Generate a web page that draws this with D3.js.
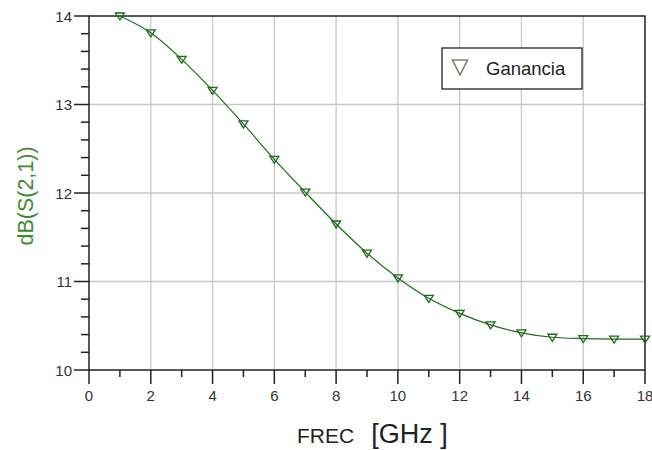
<!DOCTYPE html>
<html><head><meta charset="utf-8">
<script src="https://cdn.jsdelivr.net/npm/d3@7/dist/d3.min.js"></script>
<style>body{margin:0;background:#fff;}svg{display:block;}</style>
</head><body>
<svg id="c" width="652" height="450"></svg>
<script>
const freq = [1,2,3,4,5,6,7,8,9,10,11,12,13,14,15,16,17,18];
const gain = [14.0,13.81,13.51,13.16,12.78,12.38,12.01,11.65,11.32,11.04,10.81,10.64,10.51,10.42,10.37,10.355,10.35,10.35];
const xTicks = [0,2,4,6,8,10,12,14,16,18];
const yTicks = [10,11,12,13,14];
const seriesName = "Ganancia";
const yLabel = "dB(S(2,1))";

const svg = d3.select("#c");
const L=89,R=645,T=16,B=370;
const x = d3.scaleLinear().domain([0,18]).range([L,R]);
const y = d3.scaleLinear().domain([10,14]).range([B,T]);
const grid="#c8c8c8", axisC="#222", txt="#333", green="#1f6b1f";
const font = "Liberation Sans, Arial, sans-serif";

// grid
svg.append("g").selectAll("line").data(xTicks.slice(1,-1)).join("line")
  .attr("x1",d=>x(d)).attr("x2",d=>x(d)).attr("y1",T).attr("y2",B)
  .attr("stroke",grid).attr("stroke-width",1.3);
svg.append("g").selectAll("line").data(yTicks.slice(1,-1)).join("line")
  .attr("y1",d=>y(d)).attr("y2",d=>y(d)).attr("x1",L).attr("x2",R)
  .attr("stroke",grid).attr("stroke-width",1.3);

// frame
svg.append("rect").attr("x",L).attr("y",T).attr("width",R-L).attr("height",B-T)
  .attr("fill","none").attr("stroke",axisC).attr("stroke-width",1.5);

// x axis ticks
const xMinor = d3.range(1,18,2);
svg.append("g").selectAll("line").data(xMinor).join("line")
  .attr("x1",d=>x(d)).attr("x2",d=>x(d)).attr("y1",B).attr("y2",B+7)
  .attr("stroke",axisC).attr("stroke-width",1.5);
svg.append("g").selectAll("line").data(xTicks).join("line")
  .attr("x1",d=>x(d)).attr("x2",d=>x(d)).attr("y1",B).attr("y2",B+14)
  .attr("stroke",axisC).attr("stroke-width",1.5);
svg.append("g").selectAll("text").data(xTicks).join("text")
  .attr("x",d=>x(d)).attr("y",B+31).attr("text-anchor","middle")
  .attr("font-family",font).attr("font-size",15)
  .attr("fill",txt).text(d=>d);

// y axis ticks
const yMinor = d3.range(10,14.001,0.2).filter(v=>Math.abs(v-Math.round(v))>0.01);
svg.append("g").selectAll("line").data(yMinor).join("line")
  .attr("y1",d=>y(d)).attr("y2",d=>y(d)).attr("x1",L-8).attr("x2",L)
  .attr("stroke",axisC).attr("stroke-width",1.5);
svg.append("g").selectAll("line").data(yTicks).join("line")
  .attr("y1",d=>y(d)).attr("y2",d=>y(d)).attr("x1",L-15).attr("x2",L)
  .attr("stroke",axisC).attr("stroke-width",1.5);
svg.append("g").selectAll("text").data(yTicks).join("text")
  .attr("x",L-17).attr("y",d=>y(d)+5.5).attr("text-anchor","end")
  .attr("font-family",font).attr("font-size",15)
  .attr("fill",txt).text(d=>d);

// line
const pts = freq.map((f,i)=>[f,gain[i]]);
svg.append("path").datum(pts)
  .attr("d",d3.line().x(d=>x(d[0])).y(d=>y(d[1])).curve(d3.curveMonotoneX))
  .attr("fill","none").attr("stroke",green).attr("stroke-width",1.2);

// markers (down triangles)
const tri = (cx,cy,w,h)=>`M${cx-w/2},${cy-h/2}L${cx+w/2},${cy-h/2}L${cx},${cy+h/2}Z`;
svg.append("g").selectAll("path").data(pts).join("path")
  .attr("d",d=>tri(x(d[0]),y(d[1])+0.5,9,7))
  .attr("fill","none").attr("stroke",green).attr("stroke-width",1.3);

// legend
svg.append("rect").attr("x",442).attr("y",48).attr("width",140).attr("height",41)
  .attr("fill","#fff").attr("stroke","#222").attr("stroke-width",1.3);
svg.append("path").attr("d",tri(460,67.5,15,15))
  .attr("fill","none").attr("stroke","#7b8266").attr("stroke-width",1.6);
svg.append("text").attr("x",486).attr("y",75)
  .attr("font-family",font).attr("font-size",18.5)
  .attr("fill","#222").text(seriesName);

// y label
svg.append("text").attr("transform","translate(33,196) rotate(-90)")
  .attr("text-anchor","middle")
  .attr("font-family",font).attr("font-size",21.5)
  .attr("fill","#3c8a2e").text(yLabel);

// x label
const xl = svg.append("text").attr("x",297).attr("y",443)
  .attr("font-family",font).attr("fill","#222");
xl.append("tspan").attr("font-size",21).text("FREC");
xl.append("tspan").attr("dx",17).attr("font-size",27).attr("fill","#222").text("[GHz ]");
</script>
</body></html>
